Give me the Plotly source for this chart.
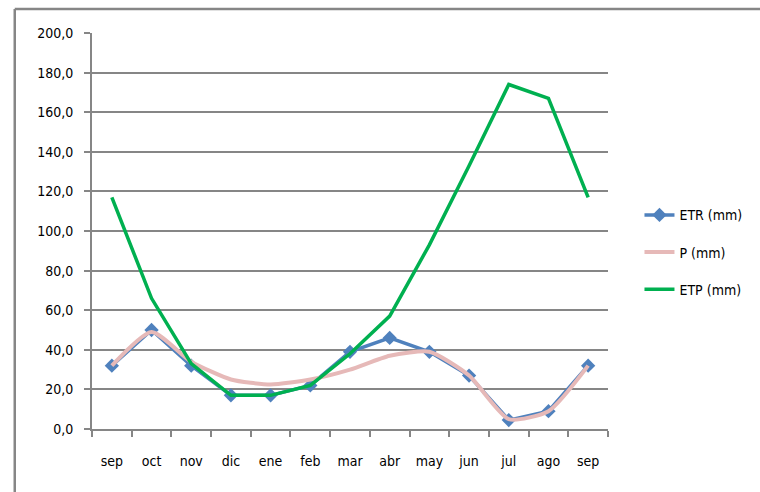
import plotly.graph_objects as go

meses = ["sep", "oct", "nov", "dic", "ene", "feb", "mar", "abr", "may", "jun", "jul", "ago", "sep"]
etr = [32, 50, 32, 17, 17, 22, 39, 46, 39, 27, 4.5, 9, 32]
p = [32, 49, 34, 25, 22.5, 25, 30, 37, 39, 27, 5, 9, 32]
etp = [117, 66, 33, 17, 17, 22, 38, 57, 93, 133, 174, 167, 117]

y_ticks = list(range(0, 201, 20))
y_labels = [f"{v},0" for v in y_ticks]

x = list(range(len(meses)))
gris = "#868686"
fuente = dict(family="DejaVu Sans Condensed, DejaVu Sans, sans-serif", size=14, color="#000000")

fig = go.Figure()
fig.add_trace(go.Scatter(
    x=x, y=etr, name="ETR (mm)", legendgroup="a",
    mode="lines+markers",
    line=dict(color="#4F81BD", width=3.5),
    marker=dict(symbol="diamond", size=11, color="#4F81BD"),
))
fig.add_trace(go.Scatter(
    x=x, y=p, name="P (mm)", legendgroup="b",
    mode="lines",
    line=dict(color="#E6B9B8", width=4, shape="spline", smoothing=0.6),
))
fig.add_trace(go.Scatter(
    x=x, y=etp, name="ETP (mm)", legendgroup="c",
    mode="lines",
    line=dict(color="#00B050", width=3.5),
))

# marco del gráfico: solo se ven el borde izquierdo y el superior
marco = dict(type="line", xref="paper", yref="paper",
             line=dict(color=gris, width=2.5), layer="below")

fig.update_layout(
    width=760, height=492,
    margin=dict(l=92, r=147, t=33, b=63),
    paper_bgcolor="white", plot_bgcolor="white",
    font=fuente,
    showlegend=True,
    legend=dict(x=1.061, y=0.58, xanchor="left", yanchor="top",
                tracegroupgap=16, font=fuente, bgcolor="rgba(0,0,0,0)"),
    xaxis=dict(
        range=[-0.5, 12.5], tickvals=x, ticktext=meses, ticks="",
        showgrid=False, showline=True, linecolor=gris, linewidth=2,
        ticklabelstandoff=18, zeroline=False,
        minor=dict(tickvals=[i - 0.5 for i in range(len(meses) + 1)],
                   ticks="outside", ticklen=6, tickcolor=gris, tickwidth=2,
                   showgrid=False),
    ),
    yaxis=dict(
        range=[0, 200], tickvals=y_ticks, ticktext=y_labels,
        ticks="outside", ticklen=6, tickcolor=gris, tickwidth=2,
        showgrid=True, gridcolor=gris, gridwidth=2,
        showline=True, linecolor=gris, linewidth=2, zeroline=False,
        ticklabelstandoff=8,
    ),
    shapes=[
        dict(marco, x0=-0.1497, x1=-0.1497, y0=-0.5, y1=1.0606),
        dict(marco, x0=-0.1497, x1=1.6, y0=1.0606, y1=1.0606),
    ],
)

# sin el margen de 8 px que pone el navegador al body
fig.write_html("out.html", config={"displayModeBar": False},
               post_script="document.body.style.margin='0';")
